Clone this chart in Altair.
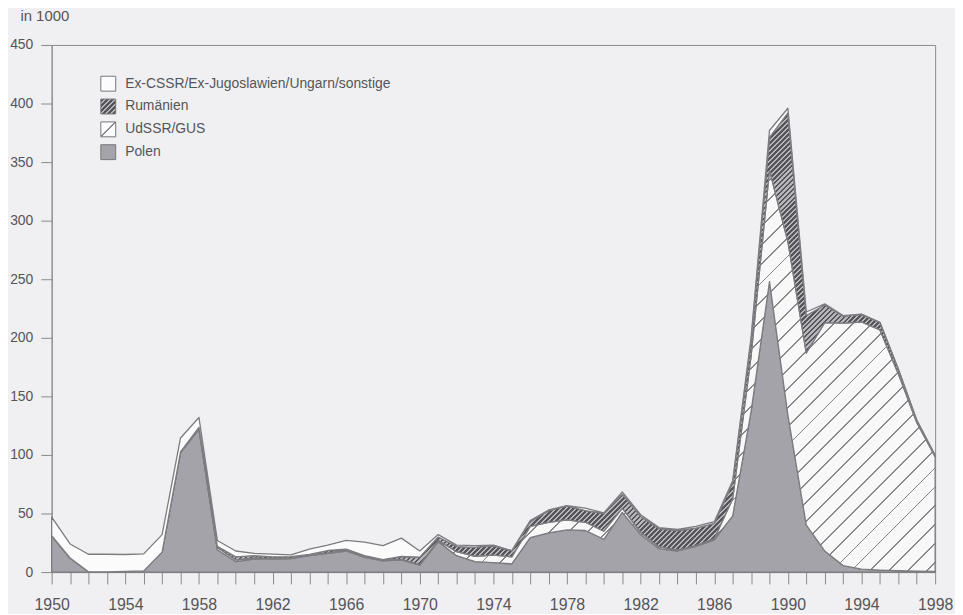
import altair as alt
import pandas as pd

# ---------------- data (in 1000) ----------------
years = list(range(1950, 1999))

polen = [31, 12, 0.2, 0.2, 0.5, 1, 17, 102, 122, 19,
         9, 11, 11, 11.5, 14, 16, 18, 12.5, 9.5, 10.5,
         6, 26, 14, 9, 8, 7, 29.5, 33.5, 36, 35.5,
         28, 51, 32, 20, 18, 22, 27.5, 48, 137, 248,
         134, 40, 18, 5.5, 2.5, 1.7, 1.2, 0.7, 0.5]

udssr = [0, 0, 0, 0, 0, 0, 0, 0, 0, 2,
         1.5, 1, 0.5, 0.3, 0.3, 0.4, 1, 1, 0.6, 0.3,
         0.3, 1.1, 3.4, 4.5, 6.5, 6, 9.5, 9, 8.5, 7,
         7, 3.5, 2, 1.5, 1, 0.5, 1, 14.5, 47.5, 95,
         148, 147, 195, 207, 211, 205, 168, 127, 98]

rumaenien = [0, 0, 0, 0, 0, 0, 0, 0.5, 1.5, 1,
             2.5, 2, 1.5, 1.3, 0.8, 2, 0.6, 0.5, 0.6, 2.5,
             6.5, 2.8, 4.4, 7.5, 8, 5, 4, 10, 12, 10,
             15, 12, 13.5, 15.5, 16.5, 15, 13, 14, 13, 28,
             110, 32, 15, 6, 6.5, 6.3, 4, 2, 1]

sonstige = [16, 12, 15, 15, 14.5, 14.5, 15, 12, 8.5, 5,
            5, 2, 2.3, 1.5, 4.5, 4.6, 7.4, 11.5, 11.8, 15.7,
            5.2, 2.1, 1.2, 1.5, 0.5, 0.3, 1, 0.5, 0.3, 2,
            0.5, 2, 1.5, 1, 1, 1.5, 1.5, 1.5, 3, 6,
            4, 3, 1, 0.5, 0.3, 0.2, 0.1, 0.1, 0.1]

n_other = "Ex-CSSR/Ex-Jugoslawien/Ungarn/sonstige"
n_rum = "Rumänien"
n_uds = "UdSSR/GUS"
n_pol = "Polen"

legend_order = [n_other, n_rum, n_uds, n_pol]
stack_series = [(n_pol, polen), (n_uds, udssr), (n_rum, rumaenien), (n_other, sonstige)]

rows = []
for i, yr in enumerate(years):
    for rank, (name, vals) in enumerate(stack_series):
        rows.append({"Jahr": yr, "Herkunft": name, "Anzahl": vals[i], "rang": rank})
df = pd.DataFrame(rows)

# ---------------- layout / style ----------------
PLOT_W, PLOT_H = 890, 531
Y_MAX = 450
PX = PLOT_H / Y_MAX
SWATCH = 15


def hatch(W, H, period, line_w, line_col, bg_col):
    """Diagonal '/' hatching as a striped linear gradient over a W x H bbox."""
    H = max(H, 1.0)
    r = H / W
    c = (1 + r) / (1 + r * r)
    L = W + H
    n = max(int(round(L / period)), 1)
    p = 1.0 / n
    lw = line_w / L
    stops = [f"{{offset:0,color:'{bg_col}'}}"]
    for i in range(n):
        a = max((i + 0.5) * p - lw / 2, 0.0)
        b = min((i + 0.5) * p + lw / 2, 1.0)
        stops.append(f"{{offset:{a:.6f},color:'{bg_col}'}}")
        stops.append(f"{{offset:{a:.6f},color:'{line_col}'}}")
        stops.append(f"{{offset:{b:.6f},color:'{line_col}'}}")
        stops.append(f"{{offset:{b:.6f},color:'{bg_col}'}}")
    stops.append(f"{{offset:1,color:'{bg_col}'}}")
    return ("{gradient:'linear',x1:0,y1:0,x2:%.6f,y2:%.6f,stops:[%s]}"
            % (c, c * r, ",".join(stops)))


cum = [0.0] * len(years)
heights = {}
for name, vals in stack_series:
    lo = cum[:]
    hi = [a + b for a, b in zip(cum, vals)]
    heights[name] = (max(hi) - min(lo)) * PX
    cum = hi

WHITE = "#fbfbfb"
POL_GRAY = "#a4a3a9"
RUM_LINE, RUM_BG = "#55555a", "#b6b6ba"
UDS_LINE, UDS_BG = "#86868b", "#f8f8f9"

# fills of the areas (domain in stacking order)
area_scale = alt.Scale(
    domain=[n_pol, n_uds, n_rum, n_other],
    range=[
        alt.ExprRef(expr=f"'{POL_GRAY}'"),
        alt.ExprRef(expr=hatch(PLOT_W, heights[n_uds], 19.0, 1.9, UDS_LINE, UDS_BG)),
        alt.ExprRef(expr=hatch(PLOT_W, heights[n_rum], 5.0, 2.8, RUM_LINE, RUM_BG)),
        alt.ExprRef(expr=f"'{WHITE}'"),
    ],
)

# fills of the legend swatches (domain in legend order)
legend_scale = alt.Scale(
    domain=legend_order,
    range=[
        alt.ExprRef(expr=f"'{WHITE}'"),
        alt.ExprRef(expr=hatch(SWATCH, SWATCH, 5.0, 3.0, RUM_LINE, RUM_BG)),
        alt.ExprRef(expr=hatch(SWATCH, SWATCH, 30.0, 1.6, UDS_LINE, WHITE)),
        alt.ExprRef(expr=f"'{POL_GRAY}'"),
    ],
)

AX_COL = "#8a8a8e"
TXT_COL = "#555558"
FONT = "Liberation Sans"

x_scale = alt.Scale(domain=[1950, 1998], nice=False, zero=False)
y_scale = alt.Scale(domain=[0, Y_MAX], nice=False)

x_axis = alt.Axis(
    title=None,
    values=years,
    format="d",
    labelExpr="datum.value % 4 == 2 ? datum.label : ''",
    labelOverlap=False,
    labelFlush=False,
    tickSize=12,
    labelPadding=13,
    labelFontSize=16,
    grid=False,
)
y_axis = alt.Axis(
    title="in 1000",
    titleAngle=0,
    titleAlign="left",
    titleBaseline="middle",
    titleX=-32,
    titleY=-30,
    titleFontSize=15,
    titleFontWeight="normal",
    titleColor=TXT_COL,
    values=list(range(0, 451, 50)),
    tickSize=11,
    labelPadding=8,
    labelFontSize=14,
    grid=False,
)

base = alt.Chart(df).transform_stack(
    stack="Anzahl",
    groupby=["Jahr"],
    as_=["y0", "y1"],
    sort=[alt.SortField("rang", order="ascending")],
)

areas = base.mark_area(
    stroke="#7c7c80", strokeWidth=1.3, strokeJoin="round", interpolate="linear"
).encode(
    x=alt.X("Jahr:Q", scale=x_scale, axis=x_axis),
    y=alt.Y("y0:Q", scale=y_scale, axis=y_axis),
    y2="y1:Q",
    color=alt.Color("Herkunft:N", scale=area_scale, legend=None),
)

legend_layer = base.mark_square(size=0).encode(
    x=alt.X("Jahr:Q", scale=x_scale, axis=x_axis),
    y=alt.Y("y0:Q", scale=y_scale, axis=y_axis),
    fill=alt.Fill(
        "Herkunft:N",
        scale=legend_scale,
        legend=alt.Legend(
            title=None,
            orient="none",
            legendX=49,
            legendY=31,
            symbolType="square",
            symbolSize=SWATCH * SWATCH,
            symbolStrokeColor="#77777b",
            symbolStrokeWidth=1,
            symbolOpacity=1,
            labelFontSize=14,
            labelColor=TXT_COL,
            labelFont=FONT,
            labelOffset=9,
            rowPadding=3,
            padding=0,
            labelLimit=400,
        ),
    ),
)

chart = (
    alt.layer(areas, legend_layer)
    .properties(
        width=PLOT_W,
        height=PLOT_H,
        autosize=alt.AutoSizeParams(type="none"),
        padding={"left": 44, "top": 35, "right": 20, "bottom": 40},
        background="#f0f0f2",
    )
    .configure_view(stroke=AX_COL, strokeWidth=1)
    .configure_axis(
        domainColor=AX_COL,
        tickColor=AX_COL,
        labelColor=TXT_COL,
        labelFont=FONT,
        titleFont=FONT,
        domainWidth=1,
        tickWidth=1,
    )
)

chart.save("out.html", embed_options={"renderer": "svg", "actions": False})
